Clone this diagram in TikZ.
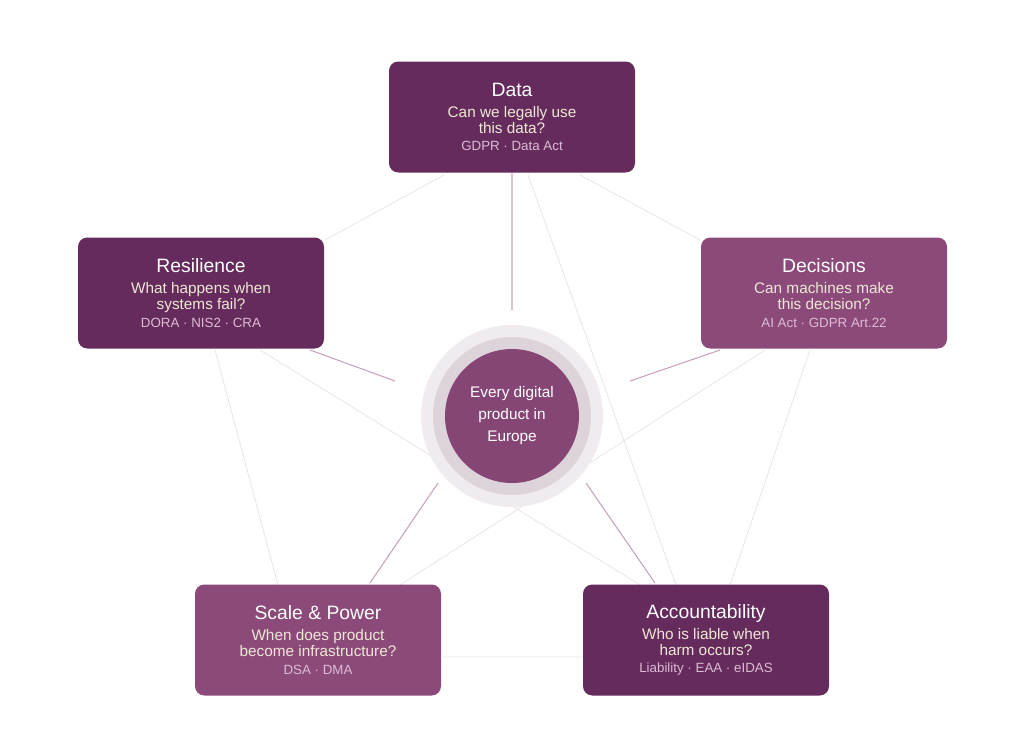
\documentclass[tikz,border=0pt]{standalone}
\usepackage{fontspec}
\setmainfont{Liberation Sans}
\definecolor{boxdark}{HTML}{652B5C}
\definecolor{boxlight}{HTML}{8B4A7A}
\definecolor{spokec}{HTML}{C6A2BC}
\definecolor{starc}{HTML}{EAE2E8}
\definecolor{qc}{HTML}{EDE9D4}
\definecolor{fc}{HTML}{DDBCD5}
\newcommand{\ttl}[1]{{\fontsize{14.5}{17}\selectfont\color{white}#1}}
\newcommand{\qst}[1]{{\fontsize{11.5}{16.5}\selectfont\color{qc}#1}}
\newcommand{\ftr}[1]{{\fontsize{10}{12}\selectfont\color{fc}#1}}
\begin{document}
\begin{tikzpicture}[x=0.75pt,y=-0.75pt,
  pbox/.style={rounded corners=7pt,minimum width=184.5pt,minimum height=83.25pt,inner sep=0pt,align=center},
  pdark/.style={pbox,fill=boxdark},
  plight/.style={pbox,fill=boxlight},
  spoke/.style={draw=spokec,line width=0.8pt},
  pstar/.style={draw=starc,line width=0.6pt}]
\useasboundingbox (0,0) rectangle (1024,736);
\coordinate (d1) at (444,175); \coordinate (r1) at (325,240);
\coordinate (d2) at (580,175); \coordinate (c1) at (700,240);
\coordinate (r2) at (215,350); \coordinate (s1) at (278,585);
\coordinate (c2) at (810,350); \coordinate (a1) at (730,585);
\coordinate (s2) at (442,657); \coordinate (a2) at (583,657);
\coordinate (d3) at (528,175); \coordinate (a3) at (676,585);
\coordinate (r3) at (260,350); \coordinate (a4) at (640,585);
\coordinate (c3) at (765,350); \coordinate (s3) at (400,585);
\draw[pstar] (d1)--(r1) (d2)--(c1) (r2)--(s1) (c2)--(a1) (s2)--(a2) (d3)--(a3) (r3)--(a4) (c3)--(s3);
\coordinate (sp1a) at (512,173); \coordinate (sp1b) at (512,310);
\coordinate (sp2a) at (310,350); \coordinate (sp2b) at (395,381);
\coordinate (sp3a) at (720,350); \coordinate (sp3b) at (630,381);
\coordinate (sp4a) at (370,583); \coordinate (sp4b) at (438,483);
\coordinate (sp5a) at (655,583); \coordinate (sp5b) at (586,483);
\draw[spoke] (sp1a)--(sp1b) (sp2a)--(sp2b) (sp3a)--(sp3b) (sp4a)--(sp4b) (sp5a)--(sp5b);
\node[circle,fill=starc!70,minimum size=136.5pt] (halo) at (512,416) {};
\node[circle,fill=black!6!starc,minimum size=118.5pt] (ring) at (512,416) {};
\node[circle,fill=boxlight!85!boxdark,minimum size=100.5pt,align=center,text=white,font=\fontsize{11.5}{16.5}\selectfont] (core) at (512,416) {Every digital\\product in\\Europe};
\node[pdark] (data) at (512,117) {\ttl{Data}\\[4pt]\qst{Can we legally use}\\\qst{this data?}\\[1pt]\ftr{GDPR · Data Act}};
\node[pdark] (res) at (201,293) {\ttl{Resilience}\\[4pt]\qst{What happens when}\\\qst{systems fail?}\\[1pt]\ftr{DORA · NIS2 · CRA}};
\node[plight] (dec) at (824,293) {\ttl{Decisions}\\[4pt]\qst{Can machines make}\\\qst{this decision?}\\[1pt]\ftr{AI Act · GDPR Art.22}};
\node[plight] (scale) at (318,640) {\ttl{Scale \& Power}\\[4pt]\qst{When does product}\\\qst{become infrastructure?}\\[1pt]\ftr{DSA · DMA}};
\node[pdark] (acc) at (706,640) {\ttl{Accountability}\\[4pt]\qst{Who is liable when}\\\qst{harm occurs?}\\[1pt]\ftr{Liability · EAA · eIDAS}};
\end{tikzpicture}
\end{document}
